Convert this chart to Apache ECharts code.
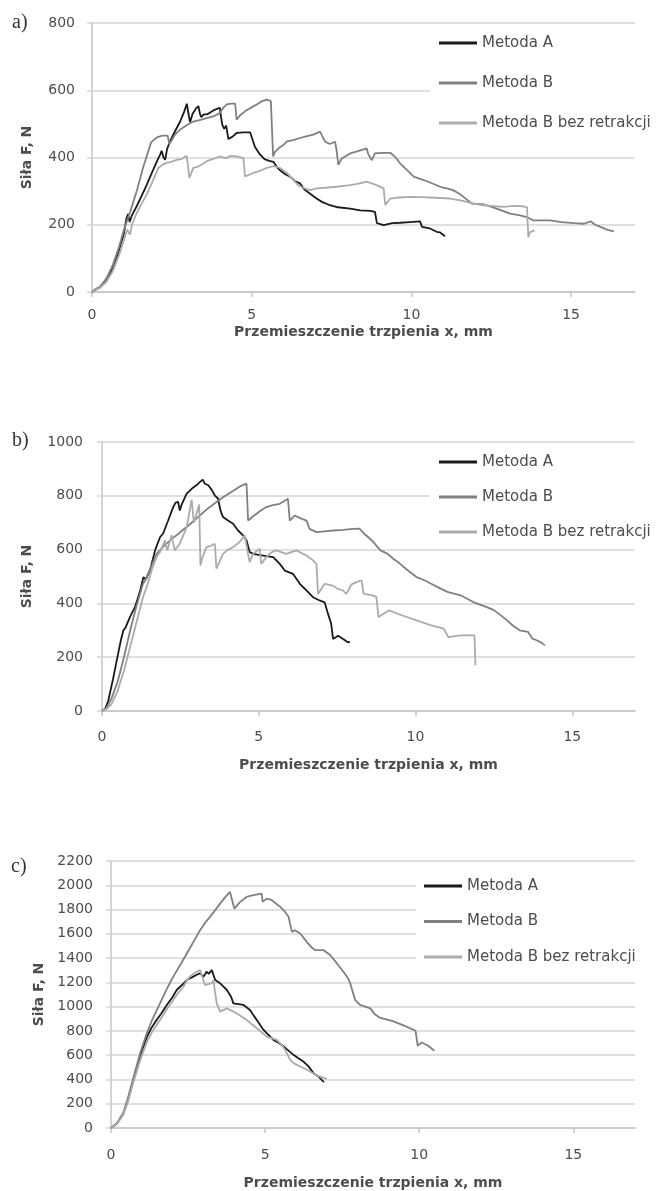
<!DOCTYPE html>
<html>
<head>
<meta charset="utf-8">
<script src="https://cdn.jsdelivr.net/npm/echarts@6.0.0/dist/echarts.min.js"></script>
<style>
  html, body { margin: 0; padding: 0; background: #fff; }
  #main { width: 661px; height: 1191px; }
</style>
</head>
<body>
<div id="main"></div>
<script>
const chartDom = document.getElementById("main");
const myChart = echarts.init(chartDom);

const seriesNames = ["Metoda A", "Metoda B", "Metoda B bez retrakcji"];
const xTicks = [0, 5, 10, 15];

// a) [przemieszczenie mm, siła N]
const aMetodaA = [[0,0],[0.1,6],[0.25,14],[0.45,35],[0.65,72],[0.85,125],[1.0,175],[1.08,220],[1.13,232],[1.18,208],[1.25,228],[1.4,255],[1.55,285],[1.71,318],[1.9,360],[2.05,392],[2.13,408],[2.18,420],[2.24,400],[2.29,393],[2.35,425],[2.44,448],[2.6,478],[2.76,507],[2.88,535],[2.97,560],[3.02,530],[3.07,505],[3.15,530],[3.25,545],[3.33,553],[3.38,530],[3.42,520],[3.5,528],[3.6,528],[3.8,540],[4.0,548],[4.04,520],[4.08,497],[4.14,485],[4.2,495],[4.27,455],[4.4,462],[4.53,473],[4.75,475],[4.95,475],[5.02,455],[5.1,432],[5.25,410],[5.4,395],[5.55,390],[5.68,387],[5.8,370],[5.89,362],[6.05,350],[6.2,343],[6.35,330],[6.51,323],[6.65,305],[6.83,292],[7.03,278],[7.2,268],[7.45,258],[7.7,252],[8.08,248],[8.4,243],[8.71,241],[8.86,238],[8.92,205],[9.13,199],[9.4,205],[9.65,206],[9.95,208],[10.27,210],[10.33,194],[10.58,189],[10.79,179],[10.9,177],[11.05,166]];
const aMetodaB = [[0,0],[0.1,8],[0.25,16],[0.45,40],[0.65,80],[0.85,135],[1.0,185],[1.2,240],[1.4,300],[1.6,370],[1.76,418],[1.85,445],[2.03,460],[2.2,465],[2.37,465],[2.42,440],[2.5,452],[2.6,468],[2.76,483],[3.0,498],[3.17,507],[3.4,512],[3.59,517],[3.8,522],[4.0,532],[4.11,548],[4.22,558],[4.35,560],[4.48,560],[4.53,512],[4.63,525],[4.8,538],[5.05,552],[5.2,560],[5.31,567],[5.47,572],[5.6,568],[5.65,566],[5.67,403],[5.73,417],[5.85,428],[5.99,437],[6.1,448],[6.3,452],[6.51,458],[6.7,463],[6.93,468],[7.14,477],[7.2,465],[7.3,447],[7.45,440],[7.61,447],[7.66,420],[7.71,378],[7.82,397],[8.08,412],[8.3,418],[8.6,427],[8.65,410],[8.76,392],[8.86,412],[9.1,414],[9.34,414],[9.49,402],[9.65,382],[9.86,363],[10.07,343],[10.38,333],[10.6,325],[10.9,313],[11.1,308],[11.3,303],[11.5,292],[11.63,283],[11.89,263],[12.25,261],[12.67,248],[13.09,233],[13.4,228],[13.61,223],[13.82,213],[14.34,213],[14.7,208],[15.09,205],[15.4,203],[15.62,210],[15.75,200],[15.88,195],[16.14,185],[16.34,180]];
const aBezRetrakcji = [[0,0],[0.1,6],[0.25,12],[0.45,30],[0.65,62],[0.85,110],[1.0,155],[1.1,185],[1.19,171],[1.25,200],[1.4,235],[1.55,262],[1.71,289],[1.9,330],[2.08,369],[2.2,378],[2.34,384],[2.5,388],[2.65,393],[2.8,395],[2.96,405],[3.0,380],[3.05,339],[3.17,369],[3.3,372],[3.45,380],[3.59,389],[3.8,396],[4.0,403],[4.2,398],[4.35,405],[4.53,403],[4.74,398],[4.79,344],[5.05,354],[5.3,362],[5.47,369],[5.68,374],[5.89,369],[6.1,354],[6.3,334],[6.45,318],[6.6,310],[6.83,303],[7.03,308],[7.3,310],[7.65,313],[8.08,318],[8.35,322],[8.6,328],[8.85,320],[9.13,308],[9.18,259],[9.34,278],[9.6,281],[9.97,283],[10.3,282],[10.58,281],[11.2,278],[11.5,273],[11.73,268],[12.0,262],[12.25,258],[12.88,253],[13.2,256],[13.5,255],[13.62,252],[13.66,163],[13.71,178],[13.86,183]];

// b)
const bMetodaA = [[0,0],[0.1,8],[0.2,38],[0.35,118],[0.5,205],[0.6,262],[0.68,299],[0.75,310],[0.89,349],[1.05,386],[1.2,440],[1.32,497],[1.4,490],[1.53,522],[1.7,600],[1.85,646],[1.95,660],[2.11,708],[2.27,758],[2.35,775],[2.43,777],[2.48,745],[2.55,770],[2.7,808],[2.86,826],[3.01,839],[3.12,851],[3.21,860],[3.28,845],[3.39,839],[3.5,822],[3.6,801],[3.7,790],[3.78,745],[3.86,721],[4.02,708],[4.18,696],[4.34,671],[4.5,653],[4.61,634],[4.71,591],[4.82,584],[5.14,578],[5.46,572],[5.67,547],[5.83,522],[6.09,510],[6.31,473],[6.52,448],[6.73,423],[6.94,411],[7.1,404],[7.21,361],[7.31,324],[7.37,268],[7.53,280],[7.69,268],[7.84,256],[7.91,256]];
const bMetodaB = [[0,0],[0.15,12],[0.3,45],[0.5,110],[0.7,200],[0.9,300],[1.1,390],[1.3,470],[1.42,497],[1.6,545],[1.74,584],[1.9,605],[2.06,622],[2.22,640],[2.38,653],[2.55,670],[2.7,684],[2.86,700],[3.01,715],[3.2,735],[3.4,755],[3.6,772],[3.8,790],[4.0,805],[4.2,820],[4.4,835],[4.61,845],[4.66,708],[4.8,722],[4.93,733],[5.1,748],[5.24,758],[5.45,765],[5.67,770],[5.8,780],[5.93,789],[5.99,708],[6.15,727],[6.3,718],[6.52,708],[6.62,677],[6.84,665],[7.1,668],[7.37,671],[7.7,673],[8.0,677],[8.21,678],[8.4,655],[8.61,634],[8.88,597],[9.1,585],[9.29,566],[9.5,548],[9.69,529],[10.03,498],[10.25,488],[10.5,473],[10.8,455],[11.04,442],[11.44,430],[11.84,405],[12.25,387],[12.5,375],[12.65,362],[12.92,337],[13.1,318],[13.32,300],[13.59,294],[13.73,269],[13.86,263],[14.0,255],[14.13,244]];
const bBezRetrakcji = [[0,0],[0.15,8],[0.3,25],[0.5,75],[0.7,150],[0.9,240],[1.1,330],[1.3,420],[1.45,470],[1.6,530],[1.74,572],[1.85,591],[2.01,634],[2.08,597],[2.22,653],[2.32,597],[2.48,622],[2.6,655],[2.7,684],[2.86,785],[2.93,700],[3.1,768],[3.14,541],[3.2,570],[3.33,609],[3.49,615],[3.6,622],[3.65,529],[3.86,584],[4.0,598],[4.18,609],[4.39,628],[4.55,653],[4.61,659],[4.71,553],[4.82,584],[5.03,603],[5.08,547],[5.24,572],[5.4,590],[5.56,597],[5.88,584],[6.2,597],[6.52,578],[6.73,560],[6.84,547],[6.89,435],[7.1,473],[7.37,466],[7.5,455],[7.69,448],[7.79,435],[7.95,470],[8.11,479],[8.28,486],[8.34,436],[8.61,430],[8.75,424],[8.82,349],[9.15,374],[9.56,356],[10.03,337],[10.5,318],[10.9,306],[11.04,275],[11.44,281],[11.88,281],[11.91,170]];

// c)
const cMetodaA = [[0,0],[0.2,40],[0.4,120],[0.55,230],[0.73,400],[0.95,600],[1.16,747],[1.3,820],[1.48,890],[1.65,950],[1.81,1014],[2.0,1080],[2.13,1137],[2.24,1164],[2.35,1190],[2.46,1219],[2.67,1247],[2.8,1265],[2.89,1274],[3.0,1247],[3.1,1288],[3.17,1270],[3.27,1301],[3.38,1219],[3.54,1192],[3.65,1165],[3.76,1137],[3.9,1080],[3.97,1027],[4.3,1014],[4.51,973],[4.62,930],[4.73,890],[4.95,808],[5.1,770],[5.27,726],[5.45,700],[5.6,671],[5.75,640],[5.92,603],[6.08,575],[6.24,548],[6.4,510],[6.57,452],[6.75,420],[6.91,377]];
const cMetodaB = [[0,0],[0.2,40],[0.4,125],[0.55,250],[0.73,420],[0.95,620],[1.16,781],[1.35,900],[1.59,1027],[1.8,1140],[2.02,1247],[2.25,1345],[2.46,1438],[2.7,1545],[2.89,1630],[3.05,1690],[3.21,1740],[3.38,1795],[3.54,1849],[3.7,1900],[3.86,1945],[3.92,1959],[4.0,1808],[4.19,1863],[4.4,1904],[4.62,1918],[4.75,1925],[4.89,1932],[4.92,1863],[5.05,1890],[5.22,1877],[5.35,1850],[5.49,1822],[5.65,1780],[5.76,1740],[5.87,1616],[5.97,1630],[6.14,1603],[6.35,1534],[6.5,1490],[6.62,1466],[6.89,1466],[7.11,1425],[7.33,1356],[7.54,1288],[7.7,1230],[7.76,1192],[7.92,1055],[8.08,1014],[8.25,1000],[8.41,986],[8.55,940],[8.71,910],[9.12,882],[9.53,842],[9.88,801],[9.95,678],[10.08,705],[10.29,678],[10.49,637]];
const cBezRetrakcji = [[0,0],[0.2,35],[0.4,110],[0.55,215],[0.73,380],[0.95,560],[1.16,705],[1.35,800],[1.59,890],[1.8,975],[2.02,1055],[2.2,1120],[2.35,1164],[2.45,1210],[2.56,1247],[2.7,1275],[2.89,1301],[2.94,1315],[3.05,1178],[3.15,1185],[3.27,1192],[3.32,1219],[3.43,1027],[3.54,959],[3.76,986],[3.97,959],[4.2,925],[4.4,890],[4.73,822],[5.05,753],[5.38,726],[5.52,690],[5.65,644],[5.81,562],[5.95,530],[6.14,507],[6.46,466],[6.7,430],[7.0,404]];

const gridColor = "#d6d6d6";
const axisColor = "#c4c4c4";
const labelColor = "#4d4d4d";
const colors = ["#1a1a1a", "#808080", "#ababab"];

function makeX(idx, labelMargin, nameGap) {
  return {
    type: "value",
    gridIndex: idx,
    min: 0,
    max: 17,
    interval: 5,
    name: "Przemieszczenie trzpienia x, mm",
    nameLocation: "middle",
    nameGap: nameGap,
    nameTextStyle: { fontFamily: "DejaVu Sans", fontWeight: "bold", fontSize: 14, color: labelColor },
    axisLine: { show: true, onZero: false, lineStyle: { color: axisColor, width: 1.5 } },
    axisTick: { show: true, length: 5, customValues: xTicks, lineStyle: { color: axisColor, width: 1.5 } },
    axisLabel: {
      customValues: xTicks,
      margin: labelMargin,
      fontFamily: "DejaVu Sans",
      fontSize: 14,
      color: labelColor,
      formatter: (v) => String(v),
    },
    splitLine: { show: false },
  };
}

function makeY(idx, max, labelMargin, nameGap) {
  return {
    type: "value",
    gridIndex: idx,
    min: 0,
    max: max,
    interval: 200,
    name: "Siła F, N",
    nameLocation: "middle",
    nameGap: nameGap,
    nameTextStyle: { fontFamily: "DejaVu Sans", fontWeight: "bold", fontSize: 14, color: labelColor },
    axisLine: { show: true, lineStyle: { color: axisColor, width: 1.5 } },
    axisTick: { show: true, length: 5, lineStyle: { color: gridColor, width: 1.5 } },
    axisLabel: {
      margin: labelMargin,
      fontFamily: "DejaVu Sans",
      fontSize: 14,
      color: labelColor,
      formatter: (v) => String(v),
    },
    splitLine: { show: true, lineStyle: { color: gridColor, width: 1.5 } },
  };
}

function makeLegend(left, top, itemGap, padding) {
  return {
    data: seriesNames,
    orient: "vertical",
    left: left,
    top: top,
    itemGap: itemGap,
    padding: padding,
    backgroundColor: "#fff",
    icon: "rect",
    itemWidth: 38,
    itemHeight: 3,
    selectedMode: false,
    textStyle: { fontFamily: "DejaVu Sans", fontSize: 15, lineHeight: 15, color: labelColor },
  };
}

function line(name, data, idx, color) {
  return {
    name: name,
    type: "line",
    xAxisIndex: idx,
    yAxisIndex: idx,
    data: data,
    symbol: "none",
    color: color,
    lineStyle: { width: 1.8, color: color },
  };
}

const panelFont = '20px "Liberation Serif"';

const option = {
  animation: false,
  backgroundColor: "#fff",
  grid: [
    { left: 92, top: 23, width: 543, height: 269 },
    { left: 102, top: 442, width: 533, height: 269 },
    { left: 111, top: 861, width: 524, height: 268 },
  ],
  xAxis: [makeX(0, 16, 33), makeX(1, 19, 47), makeX(2, 20, 48)],
  yAxis: [makeY(0, 800, 17, 58), makeY(1, 1000, 19, 68), makeY(2, 2200, 18, 64)],
  legend: [
    makeLegend(430, 27.5, 25, [8, 6, 8, 9]),
    makeLegend(430, 450.5, 20, [4, 6, 2, 9]),
    makeLegend(416, 874.5, 20.5, [4, 6, 4, 8]),
  ],
  graphic: [
    { type: "text", left: 12, top: 13, style: { text: "a)", font: panelFont, fill: "#333" } },
    { type: "text", left: 12, top: 431, style: { text: "b)", font: panelFont, fill: "#333" } },
    { type: "text", left: 11, top: 857, style: { text: "c)", font: panelFont, fill: "#333" } },
  ],
  series: [
    line(seriesNames[0], aMetodaA, 0, colors[0]),
    line(seriesNames[1], aMetodaB, 0, colors[1]),
    line(seriesNames[2], aBezRetrakcji, 0, colors[2]),
    line(seriesNames[0], bMetodaA, 1, colors[0]),
    line(seriesNames[1], bMetodaB, 1, colors[1]),
    line(seriesNames[2], bBezRetrakcji, 1, colors[2]),
    line(seriesNames[0], cMetodaA, 2, colors[0]),
    line(seriesNames[1], cMetodaB, 2, colors[1]),
    line(seriesNames[2], cBezRetrakcji, 2, colors[2]),
  ],
};

myChart.setOption(option);
</script>
</body>
</html>
